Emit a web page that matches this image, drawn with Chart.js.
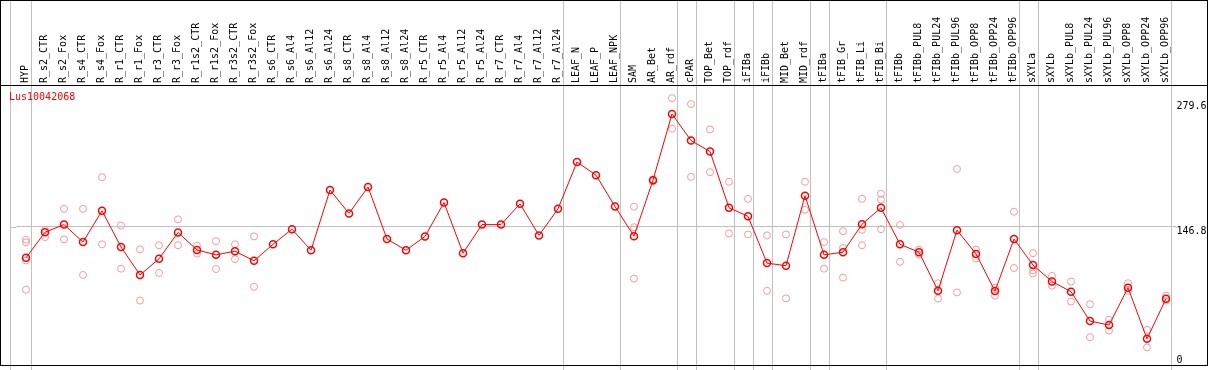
<!DOCTYPE html>
<html>
<head>
<meta charset="utf-8">
<script src="https://cdn.jsdelivr.net/npm/chart.js@4.4.1/dist/chart.umd.min.js"></script>
<style>
  html, body { margin: 0; padding: 0; background: #fff; }
</style>
</head>
<body>
<canvas id="chart" width="1209" height="370"></canvas>
<script>
// ---- data ----
const geneName = "Lus10042068";

const categories = [
  "HYP", "R_s2_CTR", "R_s2_Fox", "R_s4_CTR", "R_s4_Fox", "R_r1_CTR", "R_r1_Fox",
  "R_r3_CTR", "R_r3_Fox", "R_r1s2_CTR", "R_r1s2_Fox", "R_r3s2_CTR", "R_r3s2_Fox",
  "R_s6_CTR", "R_s6_Al4", "R_s6_Al12", "R_s6_Al24", "R_s8_CTR", "R_s8_Al4", "R_s8_Al12",
  "R_s8_Al24", "R_r5_CTR", "R_r5_Al4", "R_r5_Al12", "R_r5_Al24", "R_r7_CTR", "R_r7_Al4",
  "R_r7_Al12", "R_r7_Al24", "LEAF_N", "LEAF_P", "LEAF_NPK", "SAM", "AR_Bet", "AR_rdf",
  "cPAR", "TOP_Bet", "TOP_rdf", "iFIBa", "iFIBb", "MID_Bet", "MID_rdf", "tFIBa",
  "tFIB_Gr", "tFIB_Li", "tFIB_Bi", "tFIBb", "tFIBb_PUL8", "tFIBb_PUL24", "tFIBb_PUL96",
  "tFIBb_OPP8", "tFIBb_OPP24", "tFIBb_OPP96", "sXYLa", "sXYLb", "sXYLb_PUL8",
  "sXYLb_PUL24", "sXYLb_PUL96", "sXYLb_OPP8", "sXYLb_OPP24", "sXYLb_OPP96"
];

// mean expression (line)
const meanValues = [
  113.5, 140.8, 148.9, 130.3, 163.6, 125.1, 95.3, 112.5, 140.5, 121.9, 116.7, 120.6, 110.4,
  127.9, 144.0, 121.6, 185.7, 160.8, 188.9, 133.5, 121.6, 136.3, 172.4, 118.5, 148.9, 148.9,
  171.0, 137.4, 165.7, 215.5, 201.5, 168.2,
  136.6, 196.2, 266.7, 238.3, 226.7, 166.8, 157.7, 107.9, 105.1, 179.7, 116.7, 119.5, 149.3,
  166.8, 127.9, 119.5, 78.5, 143.0, 117.7, 78.1, 133.5, 105.8, 88.3, 77.5, 46.2, 42.0, 81.7,
  27.3, 70.1
];

// single replicates (pale circles)
const repA = [
  132.8, 143.3, 165.7, 165.7, 199.4, 147.9, 122.6, 126.9, 154.5, 126.5, 131.4, 127.9, 136.3,
  null, null, null, null, null, null, null, null, null, null, null, null, null, null, null,
  null, null, null, null,
  167.9, 197.0, 283.5, 277.2, 250.2, 194.5, 176.3, 137.4, 138.4, 194.5, 130.3, 141.9, 176.3,
  181.8, 148.5, 122.3, 86.5, 208.1, 122.3, 81.7, 162.6, 118.5, 94.3, 88.3, 64.1, 47.6, 86.5,
  36.8, 73.3
];
const repB = [
  130.0, 135.6, 133.1, 95.3, 127.9, 102.0, 68.0, 97.4, 126.9, 118.0, 101.6, 112.1, 82.7,
  null, null, null, null, null, null, null, null, null, null, null, null, null, null, null,
  null, null, null, null,
  146.1, 195.0, 250.9, 199.7, 204.6, 139.5, 138.4, 78.5, 70.4, 164.7, 102.0, 124.0, 143.3,
  175.5, 109.3, 117.0, 70.1, 76.7, 112.8, 73.3, 102.7, 100.2, 83.8, 67.0, 29.1, 36.1, 78.5,
  18.2, 68.0
];
const repC = [
  110.7, null, null, null, null, null, null, null, null, null, null, null, null,
  null, null, null, null, null, null, null, null, null, null, null, null, null, null, null,
  null, null, null, null,
  91.4, null, null, null, null, null, null, null, null, null, null, 92.5, 126.9,
  144.0, null, null, null, null, null, null, null, 97.0, null, null, null, null, null,
  null, null
];
const repD = [
  79.6, null, null, null, null, null, null, null, null, null, null, null, null,
  null, null, null, null, null, null, null, null, null, null, null, null, null, null, null,
  null, null, null, null,
  null, null, null, null, null, null, null, null, null, null, null, null, null,
  null, null, null, null, null, null, null, null, null, null, null, null, null, null,
  null, null
];

const yTickValues = [0, 146.8, 279.6];
const yMax = 296.4;

// group separators: drawn just after these category indexes
const groupEnds = [0, 28, 31, 34, 35, 37, 38, 39, 41, 42, 45, 52, 53, 60];

// ---- styles ----
const FONT = "'DejaVu Sans Mono', monospace";
const RED = "#ff0000";
const PALE = "#f09c9c";
const GRID = "#c0c0c0";

function repSet(data) {
  return {
    data,
    showLine: false,
    pointRadius: 3.5,
    pointBorderWidth: 1,
    pointBorderColor: PALE,
    pointBackgroundColor: "transparent",
    borderColor: PALE,
    order: 2
  };
}

const framePlugin = {
  id: "frame",
  beforeDatasetsDraw(chart) {
    const { ctx, scales, chartArea } = chart;
    const x = scales.x;
    const y = scales.y;
    const step = x.getPixelForValue(1) - x.getPixelForValue(0);
    const leftEdge = x.getPixelForValue(0) - step * 0.84;
    ctx.save();
    ctx.strokeStyle = GRID;
    ctx.lineWidth = 1;
    const lines = [leftEdge].concat(groupEnds.map(i => x.getPixelForValue(i) + step * 0.25));
    lines.forEach(px => {
      const p = Math.round(px) + 0.5;
      ctx.beginPath();
      ctx.moveTo(p, 0);
      ctx.lineTo(p, chart.height);
      ctx.stroke();
    });
    // mid reference line also runs left of the plot area
    const my = Math.round(y.getPixelForValue(146.8)) + 0.5;
    ctx.beginPath();
    ctx.moveTo(Math.round(leftEdge), my);
    ctx.lineTo(chartArea.left, my);
    ctx.moveTo(chartArea.right, my);
    ctx.lineTo(chartArea.right + 2, my);
    ctx.stroke();
    ctx.restore();
  },
  afterDraw(chart) {
    const { ctx, chartArea } = chart;
    ctx.save();
    ctx.strokeStyle = "#000";
    ctx.lineWidth = 1;
    ctx.strokeRect(0.5, 0.5, chart.width - 2, chartArea.bottom + 0.5);
    ctx.beginPath();
    ctx.moveTo(0, 85.5);
    ctx.lineTo(chart.width - 1, 85.5);
    ctx.stroke();
    ctx.fillStyle = RED;
    ctx.font = "10px " + FONT;
    ctx.textBaseline = "top";
    ctx.fillText(geneName, 9, 92);
    ctx.restore();
  }
};

new Chart(document.getElementById("chart"), {
  type: "line",
  data: {
    labels: categories,
    datasets: [
      {
        data: meanValues,
        borderColor: RED,
        borderWidth: 1,
        pointRadius: 3.5,
        pointBorderWidth: 1.5,
        pointBorderColor: RED,
        pointBackgroundColor: "transparent",
        tension: 0,
        order: 1
      },
      repSet(repA),
      repSet(repB),
      repSet(repC),
      repSet(repD)
    ]
  },
  options: {
    responsive: false,
    animation: false,
    layout: { padding: { left: 16.5, right: 0, top: 0, bottom: 2 } },
    plugins: {
      legend: { display: false },
      tooltip: { enabled: false }
    },
    scales: {
      x: {
        position: "top",
        offset: true,
        grid: { display: false, drawTicks: false },
        border: { display: false },
        ticks: {
          autoSkip: false,
          maxRotation: 90,
          minRotation: 90,
          padding: 3,
          labelOffset: 11,
          color: "#000",
          font: { family: FONT, size: 10 }
        },
        afterFit(scale) {
          scale.height = 86;
          scale.paddingLeft = 0;
          scale.paddingRight = 0;
        }
      },
      y: {
        position: "right",
        min: 0,
        max: yMax,
        grid: {
          drawTicks: false,
          color: c => (c.tick && c.tick.value === 146.8 ? GRID : "transparent")
        },
        border: { display: false },
        afterBuildTicks(scale) {
          scale.ticks = yTickValues.map(v => ({ value: v }));
        },
        ticks: {
          align: "start",
          padding: 1,
          color: "#000",
          font: c => ({
            family: FONT,
            size: 10,
            lineHeight: c.tick && c.tick.value === 0 ? 1.8 : 1.2
          }),
          callback: v => (v === 0 ? ["0", ""] : String(v))
        },
        afterFit(scale) {
          scale.width = 33.5;
          scale.paddingTop = 0;
          scale.paddingBottom = 0;
        }
      }
    }
  },
  plugins: [framePlugin]
});
</script>
</body>
</html>
